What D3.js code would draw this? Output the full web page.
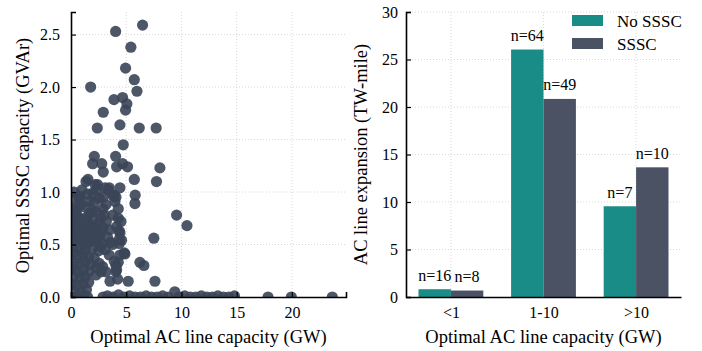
<!DOCTYPE html>
<html>
<head>
<meta charset="utf-8">
<script src="https://cdn.jsdelivr.net/npm/d3@7"></script>
<style>
  body { margin: 0; background: #fff; }
  svg text { font-family: "Liberation Serif", "Times New Roman", serif; fill: #000; }
</style>
</head>
<body>
<div id="chart"></div>
<script>
var width = 702;
var height = 351;

// scatter: optimal AC line capacity (GW) vs optimal SSSC capacity (GVAr)
var scatterPoints = [
  [4.04,2.53],[6.48,2.59],[5.42,2.38],[4.94,2.18],[5.73,2.07],[1.78,2.00],[5.97,1.96],
  [3.89,1.88],[4.67,1.90],[5.06,1.84],[4.94,1.78],[2.92,1.76],[2.38,1.61],[4.43,1.64],
  [6.18,1.61],[7.71,1.61],[4.73,1.45],[2.11,1.34],[4.04,1.34],[1.96,1.27],[2.78,1.27],
  [4.67,1.27],[4.13,1.24],[5.12,1.24],[8.05,1.23],[2.92,1.19],
  [1.54,1.12],[5.73,1.12],[7.74,1.10],[2.20,1.07],[3.10,1.04],[4.43,1.04],[2.32,1.02],
  [3.37,1.02],[0.75,0.96],[0.81,0.96],[5.81,0.97],[3.77,0.97],[4.07,0.95],[3.98,0.91],
  [5.79,0.89],[9.56,0.78],[10.5,0.68],[7.50,0.56],[6.24,0.33],[6.60,0.30],[7.60,0.15],
  [3.53,0.15],[5.18,0.15],[4.22,0.17],[4.43,0.40],[4.88,0.41],[4.37,0.51],[4.58,0.54],
  [4.28,0.33],[4.13,0.26],[4.43,0.61],[4.13,0.67],[4.28,0.75],[4.28,0.84],[0.51,0.86],
  [0.36,0.76],[0.36,0.59],[0.36,0.43],[4.07,0.30],[4.07,0.24],[2.86,0.29],[2.71,0.24],
  [1.36,1.10],[2.41,1.07],[1.96,0.99],[3.46,1.04],[0.75,0.94],[1.66,0.91],[2.56,0.94],
  [3.92,0.97],[3.16,0.88],[0.45,0.82],[1.96,0.82],[3.77,0.78],[2.71,0.75],[4.52,0.72],
  [1.20,0.86],[2.90,0.84],[0.15,0.95],[0.10,0.70],
  [0.50,0.79],[1.70,0.80],[2.30,0.81],[3.00,0.78],[0.90,0.88],[1.50,0.98],[2.90,0.95],
  [0.30,1.00],[2.10,0.90],[1.00,1.02],
  [0.30,0.72],[0.90,0.74],[1.40,0.76],[2.00,0.73],[2.50,0.70],[3.20,0.72],
  [0.60,0.66],[1.10,0.67],[1.70,0.68],[2.30,0.65],[2.90,0.66],[3.50,0.64],
  [0.20,0.60],[0.80,0.61],[1.30,0.59],[1.90,0.60],[2.60,0.58],[3.30,0.57],
  [0.50,0.53],[1.00,0.54],[1.60,0.52],[2.20,0.53],[2.80,0.51],[3.60,0.52],
  [0.20,0.47],[0.70,0.46],[1.30,0.45],[1.90,0.46],[2.50,0.44],[3.10,0.45],
  [1.40,0.63],[2.00,0.66],[0.70,0.56],[2.40,0.59],[1.20,0.50],[2.00,0.55],
  [1.00,0.70],[1.80,0.57],[2.70,0.62],[0.40,0.64],[1.50,0.71],[2.70,0.48],
  [4.37,0.63],[4.37,0.55],[3.77,0.50],[4.82,0.42],[3.46,0.40],[3.92,0.34],[2.56,0.32],
  [3.16,0.24],[2.26,0.21],
  [0.10,0.40],[0.60,0.39],[1.10,0.40],[1.60,0.38],[2.10,0.37],
  [0.30,0.33],[0.80,0.32],[1.30,0.33],[1.80,0.31],[2.30,0.28],
  [0.10,0.26],[0.60,0.25],[1.10,0.26],[1.60,0.24],
  [0.30,0.19],[0.80,0.18],[1.30,0.19],[1.60,0.14],
  [0.10,0.12],[0.60,0.11],[1.10,0.12],[1.40,0.07],
  [0.30,0.05],[0.80,0.04],[1.20,0.02],[0.00,0.00],[0.50,0.00],[1.00,0.00],[1.50,0.00],
  [0.00,0.55],[0.00,0.30],[0.05,0.85],
  [2.90,0.00],[3.30,0.01],[3.80,0.00],[4.30,0.02],[4.80,0.00],[5.30,0.01],[5.80,0.00],
  [6.30,0.00],[6.80,0.01],[7.30,0.00],[7.80,0.00],[8.30,0.01],[8.80,0.00],[9.40,0.05],
  [9.80,0.00],[10.3,0.01],[10.8,0.00],[11.3,0.00],[11.8,0.01],[12.3,0.00],[12.8,0.00],
  [13.3,0.01],[13.8,0.00],[14.3,0.00],[14.8,0.01],[17.84,0.00],[19.95,0.00],[23.66,0.00]
];
var scatterXTicks = [0, 5, 10, 15, 20];
var scatterYTicks = [0, 0.5, 1.0, 1.5, 2.0, 2.5];

// bars: AC line expansion (TW-mile) by capacity bin
var categories = ["<1", "1-10", ">10"];
var noSsscValues = [0.82, 26.05, 9.55];
var ssscValues = [0.68, 20.85, 13.65];
var noSsscCounts = [16, 64, 7];
var ssscCounts = [8, 49, 10];
var barYTicks = [0, 5, 10, 15, 20, 25, 30];
var seriesNames = ["No SSSC", "SSSC"];

var teal = "#1a8c88";
var slate = "#4a5263";
var dotColor = "#3b4558";

var svg = d3.select("#chart").append("svg")
    .attr("width", width)
    .attr("height", height);

var gridStyle = function(sel) {
    sel.attr("stroke", "#cfcfcf")
       .attr("stroke-width", 0.8)
       .attr("stroke-dasharray", "1,2");
};

// ---------- left: scatter ----------
var L = {left: 71, right: 346, top: 12, bottom: 297};
var xs = d3.scaleLinear().domain([0, 24.9]).range([L.left, L.right]);
var ys = d3.scaleLinear().domain([0, 2.715]).range([L.bottom, L.top]);

var gl = svg.append("g");
gl.append("g").selectAll("line").data(scatterXTicks.slice(1)).enter().append("line")
    .attr("x1", function(d) { return xs(d); }).attr("x2", function(d) { return xs(d); })
    .attr("y1", L.top).attr("y2", L.bottom).call(gridStyle);
gl.append("g").selectAll("line").data(scatterYTicks.slice(1)).enter().append("line")
    .attr("x1", L.left).attr("x2", L.right)
    .attr("y1", function(d) { return ys(d); }).attr("y2", function(d) { return ys(d); })
    .call(gridStyle);

svg.append("clipPath").attr("id", "clipL").append("rect")
    .attr("x", L.left).attr("y", L.top)
    .attr("width", L.right - L.left).attr("height", L.bottom - L.top);

gl.append("g").attr("clip-path", "url(#clipL)")
    .selectAll("circle").data(scatterPoints).enter().append("circle")
    .attr("cx", function(d) { return xs(d[0]); })
    .attr("cy", function(d) { return ys(d[1]); })
    .attr("r", 5.6)
    .attr("fill", dotColor)
    .attr("fill-opacity", 0.9);

var xAxisL = d3.axisBottom(xs).tickValues(scatterXTicks).tickFormat(d3.format("d"))
    .tickSize(-5).tickPadding(10);
var yAxisL = d3.axisLeft(ys).tickValues(scatterYTicks).tickFormat(d3.format(".1f"))
    .tickSize(-5).tickPadding(11);

gl.append("g").attr("transform", "translate(0," + L.bottom + ")").call(xAxisL);
gl.append("g").attr("transform", "translate(" + L.left + ",0)").call(yAxisL);

gl.append("text")
    .attr("x", (L.left + L.right) / 2).attr("y", 343)
    .attr("text-anchor", "middle").style("font-size", "18.5px")
    .text("Optimal AC line capacity (GW)");
gl.append("text")
    .attr("transform", "translate(29," + ((L.top + L.bottom) / 2 + 1) + ") rotate(-90)")
    .attr("text-anchor", "middle").style("font-size", "18.5px")
    .text("Optimal SSSC capacity (GVAr)");

// ---------- right: grouped bars ----------
var R = {left: 406, right: 681, top: 12, bottom: 297};
var barW = 0.35;
var xb = d3.scaleLinear().domain([-0.485, 2.485]).range([R.left, R.right]);
var yb = d3.scaleLinear().domain([0, 30]).range([R.bottom, R.top]);

var gr = svg.append("g");
gr.append("g").selectAll("line").data(categories).enter().append("line")
    .attr("x1", function(d, i) { return xb(i); }).attr("x2", function(d, i) { return xb(i); })
    .attr("y1", R.top).attr("y2", R.bottom).call(gridStyle);
gr.append("g").selectAll("line").data(barYTicks.slice(1)).enter().append("line")
    .attr("x1", R.left).attr("x2", R.right)
    .attr("y1", function(d) { return yb(d); }).attr("y2", function(d) { return yb(d); })
    .call(gridStyle);

var series = [
    {name: seriesNames[0], values: noSsscValues, counts: noSsscCounts, color: teal, off: -barW / 2},
    {name: seriesNames[1], values: ssscValues, counts: ssscCounts, color: slate, off: barW / 2}
];

series.forEach(function(s) {
    var g = gr.append("g");
    g.selectAll("rect").data(s.values).enter().append("rect")
        .attr("x", function(d, i) { return xb(i + s.off - barW / 2); })
        .attr("width", xb(barW) - xb(0))
        .attr("y", function(d) { return yb(d); })
        .attr("height", function(d) { return R.bottom - yb(d); })
        .attr("fill", s.color);
    g.selectAll("text").data(s.values).enter().append("text")
        .attr("x", function(d, i) { return xb(i + s.off); })
        .attr("y", function(d) { return yb(d) - 8.5; })
        .attr("text-anchor", "middle").style("font-size", "16px")
        .text(function(d, i) { return "n=" + s.counts[i]; });
});

var xAxisR = d3.axisBottom(xb).tickValues([0, 1, 2])
    .tickFormat(function(d) { return categories[d]; })
    .tickSize(0).tickPadding(10);
var yAxisR = d3.axisLeft(yb).tickValues(barYTicks).tickFormat(d3.format("d"))
    .tickSize(-5).tickPadding(8);

gr.append("g").attr("transform", "translate(0," + R.bottom + ")").call(xAxisR);
gr.append("g").attr("transform", "translate(" + R.left + ",0)").call(yAxisR);

gr.append("text")
    .attr("x", (R.left + R.right) / 2).attr("y", 343)
    .attr("text-anchor", "middle").style("font-size", "18.5px")
    .text("Optimal AC line capacity (GW)");
gr.append("text")
    .attr("transform", "translate(367," + ((R.top + R.bottom) / 2) + ") rotate(-90)")
    .attr("text-anchor", "middle").style("font-size", "18.5px")
    .text("AC line expansion (TW-mile)");

// legend
var legend = gr.append("g").attr("transform", "translate(572,15)");
series.forEach(function(s, i) {
    legend.append("rect").attr("x", 0).attr("y", i * 23)
        .attr("width", 31).attr("height", 11).attr("fill", s.color);
    legend.append("text").attr("x", 45).attr("y", i * 23 + 12)
        .style("font-size", "17px").text(s.name);
});

// axis styling
svg.selectAll(".domain").attr("stroke", "#000").attr("stroke-width", 1.6);
svg.selectAll(".tick line").attr("stroke", "#000").attr("stroke-width", 1.2);
svg.selectAll(".tick text").style("font-size", "16px")
    .style("font-family", "'Liberation Serif', 'Times New Roman', serif");
</script>
</body>
</html>
